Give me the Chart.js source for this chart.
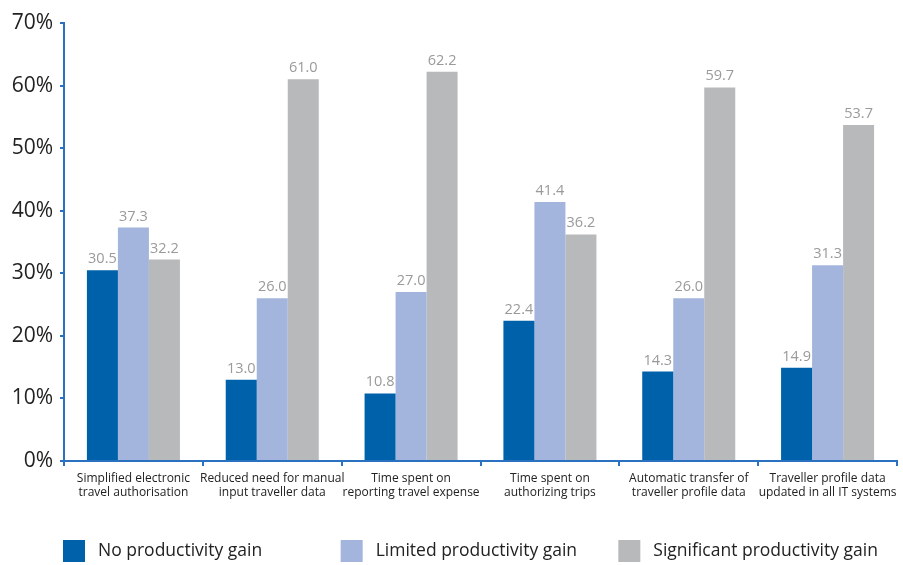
<!DOCTYPE html>
<html>
<head>
<meta charset="utf-8">
<script src="https://cdn.jsdelivr.net/npm/chart.js@4"></script>
<style>
  html, body { margin: 0; padding: 0; background: #fff; }
  #wrap { width: 903px; height: 565px; }
</style>
</head>
<body>
<div id="wrap"><canvas id="gainChart" width="903" height="565"></canvas></div>
<script>
const categories = [
    ['Simplified electronic', 'travel authorisation'],
    ['Reduced need for manual', 'input traveller data'],
    ['Time spent on', 'reporting travel expense'],
    ['Time spent on', 'authorizing trips'],
    ['Automatic transfer of', 'traveller profile data'],
    ['Traveller profile data', 'updated in all IT systems']
];
const seriesNames = ['No productivity gain', 'Limited productivity gain', 'Significant productivity gain'];
const noGain = [30.5, 13.0, 10.8, 22.4, 14.3, 14.9];
const limitedGain = [37.3, 26.0, 27.0, 41.4, 26.0, 31.3];
const significantGain = [32.2, 61.0, 62.2, 36.2, 59.7, 53.7];
const yTicks = [0, 10, 20, 30, 40, 50, 60, 70];

const colors = ['#0061ab', '#a3b5dc', '#b8b9bb'];
const axisBlue = '#2a72c0';
const fontFamily = '"Open Sans", "Noto Sans", sans-serif';

// value labels above each bar
const valueLabels = {
    id: 'valueLabels',
    afterDatasetsDraw(chart) {
        const ctx = chart.ctx;
        ctx.save();
        ctx.font = '14.5px ' + fontFamily;
        ctx.fillStyle = '#9a9a9a';
        ctx.textAlign = 'center';
        ctx.textBaseline = 'alphabetic';
        chart.data.datasets.forEach((ds, i) => {
            chart.getDatasetMeta(i).data.forEach((bar, j) => {
                ctx.fillText(ds.data[j].toFixed(1), bar.x, bar.y - 7);
            });
        });
        ctx.restore();
    }
};

// legend row, one entry every two categories
const bottomLegend = {
    id: 'bottomLegend',
    afterDraw(chart) {
        const ctx = chart.ctx;
        const area = chart.chartArea;
        const step = (area.right - area.left) / categories.length * 2;
        ctx.save();
        ctx.font = '17.5px ' + fontFamily;
        ctx.textBaseline = 'middle';
        chart.data.datasets.forEach((ds, i) => {
            const x = area.left + i * step;
            const y = area.bottom + 90;
            ctx.fillStyle = ds.backgroundColor;
            ctx.fillRect(x - 1, y - 11, 22, 22);
            ctx.fillStyle = '#222';
            ctx.fillText(ds.label, x + 34, y);
        });
        ctx.restore();
    }
};

new Chart(document.getElementById('gainChart').getContext('2d'), {
    type: 'bar',
    data: {
        labels: categories,
        datasets: [noGain, limitedGain, significantGain].map((d, i) => ({
            label: seriesNames[i],
            data: d,
            backgroundColor: colors[i],
            borderWidth: 0,
            categoryPercentage: 0.67,
            barPercentage: 1.0
        }))
    },
    options: {
        responsive: false,
        animation: false,
        layout: { padding: { top: 23, right: 6, left: 0, bottom: 0 } },
        scales: {
            x: {
                grid: { display: true, drawOnChartArea: false, offset: true, tickLength: 5, color: axisBlue, lineWidth: 2 },
                border: { color: axisBlue, width: 2 },
                ticks: { color: '#222', font: { family: fontFamily, size: 12 }, padding: 5, maxRotation: 0, autoSkip: false },
                afterFit(scale) { scale.height = 104; }
            },
            y: {
                min: 0,
                max: 70,
                afterBuildTicks(scale) { scale.ticks = yTicks.map(v => ({ value: v })); },
                grid: { display: true, drawOnChartArea: false, tickLength: 4, color: axisBlue, lineWidth: 2 },
                border: { color: axisBlue, width: 2 },
                ticks: { color: '#222', font: { family: fontFamily, size: 21 }, padding: 7, callback: v => v + '%' },
                afterFit(scale) { scale.width = 64; }
            }
        },
        plugins: {
            legend: { display: false },
            tooltip: { enabled: false }
        }
    },
    plugins: [valueLabels, bottomLegend]
});
</script>
</body>
</html>
